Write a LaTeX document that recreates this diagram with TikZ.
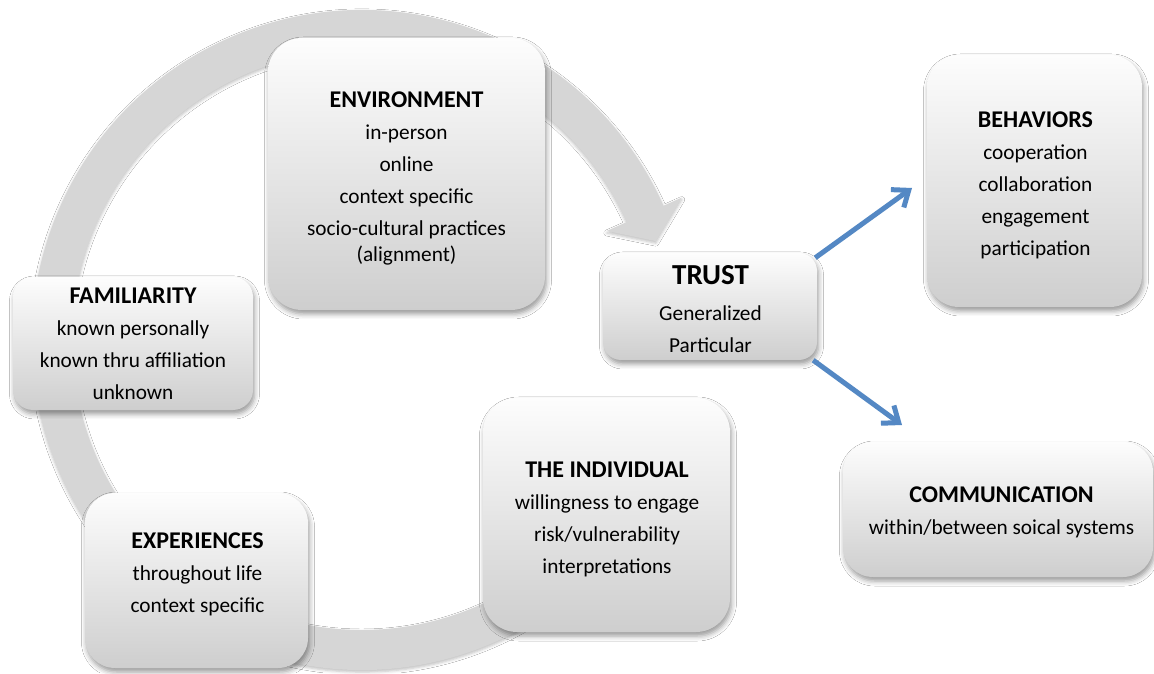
\documentclass[tikz,border=0pt]{standalone}
\usepackage{fontspec}
\setmainfont{Carlito}
\usetikzlibrary{arrows.meta,shadows.blur}

\definecolor{ringgray}{RGB}{214,214,214}
\definecolor{boxtop}{RGB}{253,253,253}
\definecolor{boxbottom}{RGB}{206,206,206}
\definecolor{linkblue}{RGB}{84,136,196}

\newcommand\cardtitle[1]{{\fontsize{24}{32}\selectfont\bfseries #1}}

\tikzset{
  card/.style={rounded corners=#1, top color=boxtop, bottom color=boxbottom,
    draw=none, inner sep=0pt,
    blur shadow={shadow xshift=1.5pt, shadow yshift=-4pt,
                 shadow blur radius=5pt, shadow opacity=40}},
  card/.default=30pt,
  cardtext/.style={align=center, inner sep=0pt, anchor=north,
    font=\fontsize{21.3}{32}\selectfont},
  ringband/.style={fill=ringgray,
    blur shadow={shadow xshift=0pt, shadow yshift=-2pt,
                 shadow blur radius=3pt, shadow opacity=25}},
  link/.style={draw=linkblue, line width=5pt,
    -{Straight Barb[length=14pt,width=22pt,line width=5pt]}}
}

\begin{document}
\begin{tikzpicture}[x=1pt,y=1pt]
  \useasboundingbox (0,0) rectangle (1154,673);
  \fill[white] (0,0) rectangle (1154,673);

  % circular arrow running clockwise round the cycle of influences
  \begin{scope}[shift={(362,333)}]
    \fill[ringband] (24:330pt) arc[start angle=24, end angle=320, radius=330pt]
      -- (320:290pt) arc[start angle=320, end angle=24, radius=290pt]
      -- (24:268pt) -- (18.6:310pt) -- (24:350pt) -- cycle;
  \end{scope}

  % boxes
  \node[card=34pt, minimum width=277pt, minimum height=272pt] (env) at (406.5,499) {};
  \node[card=18pt, minimum width=214pt, minimum height=107pt] (trust) at (710,366.5) {};
  \node[card=20pt, minimum width=240pt, minimum height=133pt] (fam) at (133,329.5) {};
  \node[card=30pt, minimum width=223pt, minimum height=175pt] (exp) at (196.5,92.5) {};
  \node[card=34pt, minimum width=247pt, minimum height=234pt] (ind) at (606.5,158) {};
  \node[card=32pt, minimum width=215pt, minimum height=252pt] (beh) at (1034.5,492) {};
  \node[card=30pt, minimum width=310pt, minimum height=135pt] (com) at (998,163.5) {};

  % box texts
  \node[cardtext] (env-t) at (406.5,581) {\cardtitle{ENVIRONMENT}\\in-person\\online\\context specific\\socio-cultural practices\\[-6pt](alignment)};
  \node[cardtext] (trust-t) at (710.5,408) {{\fontsize{29}{32}\selectfont\bfseries TRUST}\\[4pt]Generalized\\Particular};
  \node[cardtext] (fam-t) at (133,385) {\cardtitle{FAMILIARITY}\\known personally\\known thru affiliation\\unknown};
  \node[cardtext] (exp-t) at (197.5,140) {\cardtitle{EXPERIENCES}\\throughout life\\context specific};
  \node[cardtext] (ind-t) at (607,211) {\cardtitle{THE INDIVIDUAL}\\willingness to engage\\risk/vulnerability\\interpretations};
  \node[cardtext] (beh-t) at (1035.5,561) {\cardtitle{BEHAVIORS}\\cooperation\\collaboration\\engagement\\participation};
  \node[cardtext] (com-t) at (1001.5,186) {\cardtitle{COMMUNICATION}\\within/between soical systems};

  % outcomes of trust
  \coordinate (beh-in) at (912,485);
  \coordinate (com-in) at (902,248);
  \draw[link] ([shift={(-2pt,-5pt)}]trust.north east) -- (beh-in);
  \draw[link] ([shift={(-4pt,0pt)}]trust.south east) -- (com-in);
\end{tikzpicture}
\end{document}
